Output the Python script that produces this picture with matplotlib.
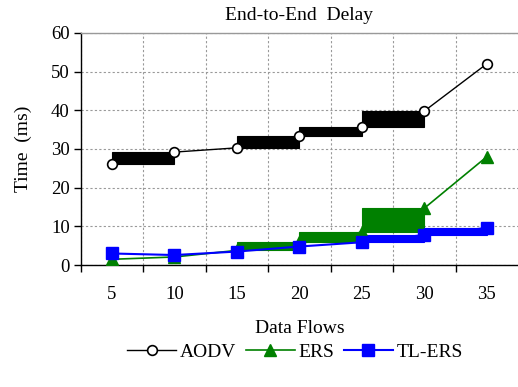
import numpy as np
import matplotlib
matplotlib.use("Agg")
import matplotlib.pyplot as plt
from matplotlib.patches import Rectangle

plt.rcParams['font.family'] = ['Liberation Serif', 'DejaVu Serif']

# ===== data =====
flows = [5, 10, 15, 20, 25, 30, 35]
aodv = [26.1, 29.2, 30.3, 33.4, 35.6, 39.8, 52.0]
ers = [1.5, 2.1, 3.8, 6.0, 8.5, 14.7, 28.0]
tlers = [3.0, 2.6, 3.5, 4.8, 5.9, 7.8, 9.6]

# segments (start index) rendered as thick filled blocks in the original
aodv_blocks = [0, 2, 3, 4]
ers_blocks = [2, 3, 4]
tlers_blocks = [4, 5]

fig = plt.figure(figsize=(5.18, 3.87), dpi=100)
ax = fig.add_axes([0.156, 0.315, 0.844, 0.600])

x = np.arange(len(flows))


def blocks(vals, idx, color):
    for i in idx:
        lo = min(vals[i], vals[i + 1])
        hi = max(vals[i], vals[i + 1])
        ax.add_patch(Rectangle((x[i], lo), 1, hi - lo,
                               facecolor=color, edgecolor=color, lw=0.8, zorder=2))


blocks(aodv, aodv_blocks, 'black')
blocks(ers, ers_blocks, '#008000')
blocks(tlers, tlers_blocks, '#0000ff')

ax.plot(x, aodv, color='black', lw=1, marker='o', ms=7,
        mfc='white', mec='black', mew=1.2, label='AODV', zorder=3)
ax.plot(x, ers, color='#008000', lw=1.2, marker='^', ms=9,
        mfc='#008000', mec='#008000', label='ERS', zorder=3)
ax.plot(x, tlers, color='#0000ff', lw=1.5, marker='s', ms=8,
        mfc='#0000ff', mec='#0000ff', label='TL-ERS', zorder=4)

# ===== axes =====
ax.set_xlim(-0.5, len(flows) - 0.5)
ax.set_ylim(0, 60)
ax.set_yticks(np.arange(0, 61, 10))
ax.set_xticks(np.arange(-0.5, len(flows) - 0.5, 1.0))
ax.set_xticklabels([])
ax.set_xticks(x, minor=True)
ax.set_xticklabels([str(f) for f in flows], minor=True)
ax.tick_params(axis='x', which='minor', length=0, pad=15, labelsize=13.5)
ax.tick_params(axis='x', which='major', length=5, direction='out', width=1)
ax.tick_params(axis='y', length=5, direction='out', width=1, labelsize=13.5, pad=3)

ax.grid(True, which='major', color='#999999', linestyle=(0, (2, 2)), lw=0.8)
ax.set_axisbelow(True)

ax.spines['right'].set_visible(False)
ax.spines['top'].set_color('#999999')
ax.spines['top'].set_linewidth(1)
ax.spines['left'].set_linewidth(1)
ax.spines['bottom'].set_linewidth(1)

ax.set_title("End-to-End  Delay", fontsize=14, pad=9)
ax.set_xlabel("Data Flows", fontsize=14, labelpad=12)
ax.set_ylabel("Time  (ms)", fontsize=14, labelpad=14)

fig.legend(loc='center', bbox_to_anchor=(0.57, 0.09), ncol=3, frameon=False,
           fontsize=14, handlelength=2.5, columnspacing=0.5, handletextpad=0.2)

fig.savefig("out.png", dpi=100)
